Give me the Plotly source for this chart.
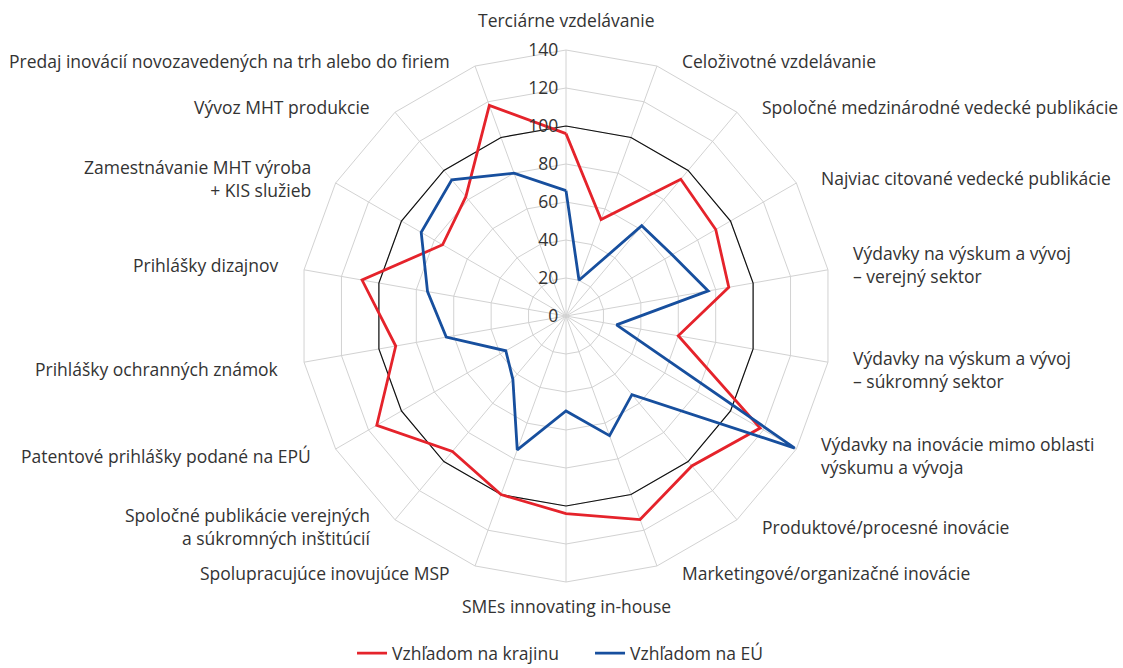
import math
import plotly.graph_objects as go

# Innovation indicators, clockwise from the top
categories = [
    "Terciárne vzdelávanie",
    "Celoživotné vzdelávanie",
    "Spoločné medzinárodné vedecké publikácie",
    "Najviac citované vedecké publikácie",
    "Výdavky na výskum a vývoj<br>– verejný sektor",
    "Výdavky na výskum a vývoj<br>– súkromný sektor",
    "Výdavky na inovácie mimo oblasti<br>výskumu a vývoja",
    "Produktové/procesné inovácie",
    "Marketingové/organizačné inovácie",
    "SMEs innovating in-house",
    "Spolupracujúce inovujúce MSP",
    "Spoločné publikácie verejných<br>a súkromných inštitúcií",
    "Patentové prihlášky podané na EPÚ",
    "Prihlášky ochranných známok",
    "Prihlášky dizajnov",
    "Zamestnávanie MHT výroba<br>+ KIS služieb",
    "Vývoz MHT produkcie",
    "Predaj inovácií novozavedených na trh alebo do firiem",
]

# Index values
vs_country = [96, 54, 94, 91, 87, 60, 118, 103, 114, 104, 100, 93, 115, 91, 109, 75, 82, 118]
vs_eu = [66, 20, 62, 64.5, 76, 27, 139, 54, 67, 50, 75, 43.5, 36.6, 64, 74, 88, 93.5, 80]
reference = [100] * len(categories)

radial_ticks = [0, 20, 40, 60, 80, 100, 120, 140]

RED = "#e5232b"
BLUE = "#174f9e"
GRID = "#d2d2d2"
TEXT = "#333333"
FONT = "Open Sans"
SIZE = 17.5
NBSP = "\u00a0"

# Page and chart geometry (pixels)
W, H = 1123, 668
CX, CY, R = 566, 316, 266
LABEL_DX, LABEL_DY_UP, LABEL_DY_DOWN = 23, -5, 7
LABEL_TOP_GAP, LABEL_BOTTOM_GAP = 30, 24


def closed(values):
    return list(values) + [values[0]]


def category_annotations(labels):
    """Place each category name just outside its outer vertex."""
    out = []
    n = len(labels)
    for i, text in enumerate(labels):
        a = 2 * math.pi * i / n
        s, c = math.sin(a), math.cos(a)
        vx, vy = CX + R * s, CY - R * c
        if abs(s) < 1e-6:
            x = vx
            y = vy - LABEL_TOP_GAP if c > 0 else vy + LABEL_BOTTOM_GAP
            xanchor, align = "center", "center"
        else:
            x = vx + LABEL_DX if s > 0 else vx - LABEL_DX
            y = vy + (LABEL_DY_UP if c > 0 else LABEL_DY_DOWN)
            xanchor = "left" if s > 0 else "right"
            align = xanchor
        out.append(dict(
            text=text, x=x / W, y=1 - y / H, xref="paper", yref="paper",
            xanchor=xanchor, yanchor="middle", align=align, showarrow=False,
            font=dict(family=FONT, size=SIZE, color=TEXT),
        ))
    return out


theta = closed(categories)

fig = go.Figure()
fig.add_trace(go.Scatterpolar(
    r=closed(reference), theta=theta, mode="lines",
    line=dict(color="#111111", width=1.2),
    showlegend=False, hoverinfo="skip",
))
fig.add_trace(go.Scatterpolar(
    r=closed(vs_country), theta=theta, mode="lines",
    name="Vzhľadom na krajinu",
    line=dict(color=RED, width=2.8),
))
fig.add_trace(go.Scatterpolar(
    r=closed(vs_eu), theta=theta, mode="lines",
    name="Vzhľadom na EÚ",
    line=dict(color=BLUE, width=2.8),
))

fig.update_layout(
    width=W,
    height=H,
    margin=dict(l=0, r=0, t=0, b=0, autoexpand=False),
    paper_bgcolor="white",
    plot_bgcolor="white",
    font=dict(family=FONT, size=SIZE, color=TEXT),
    polar=dict(
        domain=dict(
            x=[(CX - R) / W, (CX + R) / W],
            y=[1 - (CY + R) / H, 1 - (CY - R) / H],
        ),
        bgcolor="white",
        gridshape="linear",
        radialaxis=dict(
            range=[0, 140],
            tickvals=radial_ticks,
            ticktext=[f"{v}{NBSP}" for v in radial_ticks],
            angle=90,
            tickangle=90,
            side="counterclockwise",
            showline=False,
            ticks="",
            gridcolor=GRID,
            gridwidth=1,
            tickfont=dict(family=FONT, size=SIZE, color=TEXT),
        ),
        angularaxis=dict(
            direction="clockwise",
            rotation=90,
            gridcolor=GRID,
            gridwidth=1,
            showline=True,
            linecolor=GRID,
            linewidth=1,
            ticks="",
            showticklabels=False,
        ),
    ),
    annotations=category_annotations(categories),
    legend=dict(
        orientation="h",
        x=0.5254,
        xanchor="center",
        y=0.022,
        yanchor="middle",
        font=dict(family=FONT, size=SIZE, color=TEXT),
        itemwidth=30,
        entrywidth=193,
    ),
)

fig.write_html("out.html")
